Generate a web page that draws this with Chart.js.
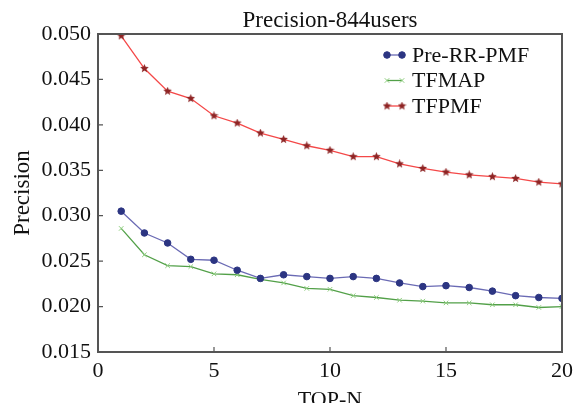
<!DOCTYPE html>
<html>
<head>
<meta charset="utf-8">
<script src="https://cdn.jsdelivr.net/npm/chart.js@4/dist/chart.umd.min.js"></script>
<style>
  html, body { margin: 0; padding: 0; background: #fff; overflow: hidden; }
  #wrap { width: 574px; height: 420px; position: relative; }
</style>
</head>
<body>
<div id="wrap"><canvas id="chart"></canvas></div>
<script>
const topN = [1, 2, 3, 4, 5, 6, 7, 8, 9, 10, 11, 12, 13, 14, 15, 16, 17, 18, 19, 20];
const preRRPMF = [0.0305, 0.0281, 0.0270, 0.0252, 0.0251, 0.0240, 0.0231, 0.0235, 0.0233, 0.0231,
                  0.0233, 0.0231, 0.0226, 0.0222, 0.0223, 0.0221, 0.0217, 0.0212, 0.0210, 0.0209];
const tfmap = [0.0286, 0.0257, 0.0245, 0.0244, 0.0236, 0.0235, 0.0230, 0.0226, 0.0220, 0.0219,
               0.0212, 0.0210, 0.0207, 0.0206, 0.0204, 0.0204, 0.0202, 0.0202, 0.0199, 0.0200];
const tfpmf = [0.0498, 0.0462, 0.0437, 0.0429, 0.0410, 0.0402, 0.0391, 0.0384, 0.0377, 0.0372,
               0.0365, 0.0365, 0.0357, 0.0352, 0.0348, 0.0345, 0.0343, 0.0341, 0.0337, 0.0335];
const xTicks = [0, 5, 10, 15, 20];
const yTicks = [0.015, 0.020, 0.025, 0.030, 0.035, 0.040, 0.045, 0.050];

const FONT = 'Liberation Serif, Times New Roman, serif';

// small filled five point star for the TFPMF markers
function makeStar(size, color) {
  const c = document.createElement('canvas');
  c.width = size; c.height = size;
  const g = c.getContext('2d');
  const cx = size / 2, cy = size / 2, ro = size / 2, ri = ro * 0.45;
  g.beginPath();
  for (let i = 0; i < 10; i++) {
    const r = i % 2 ? ri : ro;
    const a = -Math.PI / 2 + i * Math.PI / 5;
    g.lineTo(cx + r * Math.cos(a), cy + r * Math.sin(a));
  }
  g.closePath();
  g.fillStyle = color;
  g.fill();
  return c;
}
const star = makeStar(9, '#8e2424');

const toPoints = arr => arr.map((v, i) => ({ x: topN[i], y: v }));

// box round the plot, inward tick marks and the line+marker legend
const framePlugin = {
  id: 'frame',
  afterDraw(chart) {
    const { ctx, chartArea: a, scales } = chart;
    ctx.save();
    ctx.strokeStyle = '#555';
    ctx.lineWidth = 2;
    ctx.strokeRect(a.left, a.top, a.right - a.left, a.bottom - a.top);
    ctx.lineWidth = 1.2;
    ctx.beginPath();
    xTicks.forEach(v => {
      const px = scales.x.getPixelForValue(v);
      ctx.moveTo(px, a.bottom); ctx.lineTo(px, a.bottom - 5);
    });
    yTicks.forEach(v => {
      const py = scales.y.getPixelForValue(v);
      ctx.moveTo(a.left, py); ctx.lineTo(a.left + 5, py);
    });
    ctx.stroke();

    const lx0 = a.right - 175, lx1 = a.right - 160, tx = a.right - 150;
    ctx.font = '22px ' + FONT;
    ctx.textBaseline = 'middle';
    chart.data.datasets.forEach((ds, i) => {
      const y = a.top + 21 + i * 25.5;
      ctx.strokeStyle = ds.borderColor;
      ctx.lineWidth = ds.borderWidth;
      ctx.beginPath(); ctx.moveTo(lx0, y); ctx.lineTo(lx1, y); ctx.stroke();
      [lx0, lx1].forEach(px => {
        if (ds.pointStyle instanceof HTMLCanvasElement) {
          ctx.drawImage(ds.pointStyle, px - ds.pointStyle.width / 2, y - ds.pointStyle.height / 2);
        } else {
          ctx.fillStyle = ds.pointBackgroundColor;
          ctx.strokeStyle = ds.pointBorderColor;
          ctx.lineWidth = ds.pointBorderWidth;
          Chart.helpers.drawPoint(ctx, {
            pointStyle: ds.pointStyle, radius: ds.pointRadius, rotation: 0,
            borderWidth: ds.pointBorderWidth
          }, px, y);
        }
      });
      ctx.fillStyle = '#111';
      ctx.fillText(ds.label, tx, y + 1);
    });
    ctx.restore();
  }
};

new Chart(document.getElementById('chart'), {
  type: 'line',
  data: {
    datasets: [
      {
        label: 'Pre-RR-PMF',
        data: toPoints(preRRPMF),
        borderColor: '#6a6ab4',
        borderWidth: 1.3,
        pointStyle: 'circle',
        pointRadius: 3.3,
        pointBackgroundColor: '#2c3582',
        pointBorderColor: '#2c3582',
        pointBorderWidth: 1
      },
      {
        label: 'TFMAP',
        data: toPoints(tfmap),
        borderColor: '#52a048',
        borderWidth: 1.3,
        pointStyle: 'crossRot',
        pointRadius: 3.2,
        pointBackgroundColor: '#8ccc7c',
        pointBorderColor: '#8ccc7c',
        pointBorderWidth: 1
      },
      {
        label: 'TFPMF',
        data: toPoints(tfpmf),
        borderColor: '#f44848',
        borderWidth: 1.3,
        pointStyle: star,
        pointRadius: 4,
        pointBackgroundColor: '#8e2424',
        pointBorderColor: '#8e2424',
        pointBorderWidth: 1
      }
    ]
  },
  options: {
    animation: false,
    responsive: true,
    maintainAspectRatio: false,
    layout: { padding: { left: 0, right: 12, top: 0, bottom: 0 } },
    elements: { line: { tension: 0 } },
    plugins: {
      legend: { display: false },
      tooltip: { enabled: false },
      title: {
        display: true,
        text: 'Precision-844users',
        fullSize: false,
        color: '#111',
        font: { family: FONT, size: 23, weight: 'normal', lineHeight: 1.0 },
        padding: { top: 9, bottom: 2 }
      }
    },
    scales: {
      x: {
        type: 'linear',
        min: 0, max: 20,
        afterFit: s => { s.height = 68; },
        afterBuildTicks: s => { s.ticks = xTicks.map(v => ({ value: v })); },
        grid: { display: false },
        border: { display: false },
        ticks: { color: '#111', padding: -2, font: { family: FONT, size: 22 } },
        title: {
          display: true, text: 'TOP-N', color: '#111',
          font: { family: FONT, size: 22 },
          padding: { top: 0, bottom: 7 }
        }
      },
      y: {
        min: 0.015, max: 0.050,
        afterFit: s => { s.width = 98; },
        afterBuildTicks: s => { s.ticks = yTicks.map(v => ({ value: v })); },
        grid: { display: false },
        border: { display: false },
        ticks: {
          color: '#111', padding: -1, font: { family: FONT, size: 22 },
          callback: v => v.toFixed(3)
        },
        title: {
          display: true, text: 'Precision', color: '#111',
          font: { family: FONT, size: 23 },
          padding: { top: 9, bottom: 0 }
        }
      }
    }
  },
  plugins: [framePlugin]
});
</script>
</body>
</html>
